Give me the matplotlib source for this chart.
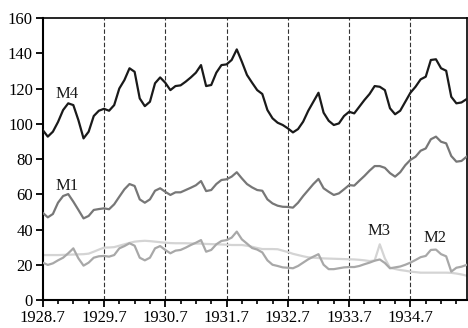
import matplotlib
matplotlib.use("Agg")
import matplotlib.pyplot as plt
import numpy as np
from matplotlib.ticker import MultipleLocator, FixedLocator

plt.rcParams.update({
    "font.family": ["Liberation Serif", "DejaVu Serif"],
    "font.size": 12,
})

# monthly values, July 1928 .. June 1935
m4 = [96.5, 92.7, 95.5, 101, 107.8, 111.6, 110.6, 102, 91.7, 95.5, 104.4, 107.4,
      108.5, 107.4, 110.6, 120, 124.8, 131.5, 129.5, 114.4, 110, 112.5, 123, 126.3,
      123.3, 119.1, 121.4, 121.8, 123.9, 126.3, 129, 133.3, 121.4, 122, 129, 133.3,
      133.7, 136.2, 142.2, 135.2, 127.7, 123.3, 119.1, 116.9, 107.8, 103.1, 100.6, 99.3,
      97.4, 95.1, 97, 101.2, 107.4, 112.5, 117.6, 106.3, 101.7, 99.3, 100.2, 104.4,
      106.8, 105.9, 109.7, 113.5, 116.9, 121.4, 121, 119.1, 108.8, 105.4, 107.4, 112.5,
      117.6, 121, 125.2, 126.7, 136.2, 136.6, 131.5, 130.1, 115.3, 111.6, 112.1, 114]
m1 = [49.5, 46.9, 48.8, 55.2, 59, 60.1, 55.8, 51.1, 46.3, 47.7, 51.1, 51.6,
      52, 51.5, 54.3, 58.6, 62.8, 65.8, 64.7, 57.1, 55.2, 57.1, 62, 63.4,
      61.4, 59.6, 61.1, 61.1, 62.4, 63.7, 65.1, 67.5, 61.8, 62.4, 65.8, 68.1,
      68.5, 70, 72.5, 69, 65.8, 63.9, 62.4, 62, 57.1, 54.8, 53.5, 52.9,
      52.8, 52.4, 55.2, 59, 62.4, 65.8, 68.7, 63.4, 61.4, 59.6, 60.5, 62.8,
      65.2, 64.9, 67.7, 70.4, 73.4, 76, 76, 75, 72, 70, 72.5, 76.5,
      79.5, 81.3, 84.7, 86, 91.2, 92.7, 89.8, 88.9, 81.7, 78.5, 78.9, 81.3]
m2 = [21.2, 19.9, 20.8, 22.5, 24, 26.5, 29.3, 23.6, 19.5, 21.2, 24, 24.8,
      25, 24.6, 25.5, 29.3, 30.6, 32.2, 30.8, 24, 22.5, 24, 29.3, 30.6,
      28.4, 26.5, 28, 28.4, 29.7, 31.2, 32.5, 34, 27.4, 28.4, 31.6, 33.5,
      34, 35.4, 38.8, 34.4, 32, 29.5, 28.6, 27, 22.5, 20, 19.3, 18.5,
      18.3, 18, 19.3, 21.2, 23.1, 24.6, 26, 20, 17.5, 17.5, 18, 18.5,
      18.7, 18.7, 19.3, 20.3, 21.2, 22.3, 23, 21, 18, 18.5, 19, 20,
      21.2, 22.7, 24.3, 25, 28.4, 28.6, 26, 24.8, 16.1, 18.3, 18.9, 19.9]
m3 = [25.5, 25.5, 25.5, 25.5, 25.6, 25.7, 25.8, 25.9, 26, 26.3, 27.4, 28.6,
      29.7, 29.8, 30, 30.8, 31.6, 32.4, 33.1, 33.4, 33.6, 33.4, 33.1, 32.8,
      32.5, 32.3, 32.2, 32.2, 32.2, 32.1, 32, 32, 31.8, 31.7, 31.6, 31.5,
      31.4, 31.2, 31.2, 31.2, 30.8, 30.2, 29.5, 28.9, 28.9, 28.9, 28.8, 28,
      27.2, 26.2, 25.5, 24.8, 24.2, 24, 23.8, 23.6, 23.5, 23.4, 23.3, 23.2,
      23.1, 23, 22.8, 22.5, 22.1, 22.4, 31.6, 23.6, 18.3, 17.6, 17, 16.6,
      16.1, 15.8, 15.5, 15.5, 15.5, 15.5, 15.5, 15.5, 15.4, 15, 14.5, 13.8]
year_labels = ["1928.7", "1929.7", "1930.7", "1931.7", "1932.7", "1933.7", "1934.7"]

months = np.arange(len(m4))

fig = plt.figure(figsize=(4.68, 3.28), dpi=100)
ax = fig.add_axes([0.0912, 0.0854, 0.9058, 0.8596])

# year separators
for k in range(1, len(year_labels)):
    ax.axvline(12 * k, color="#333333", linewidth=0.8, linestyle=(0, (4, 2)), zorder=1)

ax.plot(months, m3, color="#d4d4d4", linewidth=1.6, zorder=2)
ax.plot(months, m2, color="#a8a8a8", linewidth=1.6, zorder=3)
ax.plot(months, m1, color="#777777", linewidth=1.6, zorder=4)
ax.plot(months, m4, color="#1a1a1a", linewidth=1.6, zorder=5)

ax.text(4.75, 117, "M4", ha="center", va="center", color="#1a1a1a")
ax.text(4.8, 64.5, "M1", ha="center", va="center", color="#1a1a1a")
ax.text(65.8, 39.3, "M3", ha="center", va="center", color="#1a1a1a")
ax.text(76.8, 35, "M2", ha="center", va="center", color="#1a1a1a")

ax.set_xlim(0, 83)
ax.set_ylim(0, 160)
ax.xaxis.set_major_locator(FixedLocator(np.arange(0, 84, 12)))
ax.set_xticklabels(year_labels)
ax.xaxis.set_minor_locator(MultipleLocator(3))
ax.yaxis.set_major_locator(MultipleLocator(20))

for side in ["left", "bottom"]:
    ax.spines[side].set_linewidth(1.5)
for side in ["top", "right"]:
    ax.spines[side].set_linewidth(1.2)
ax.tick_params(which="major", direction="out", length=5, width=1.3, pad=2)
ax.tick_params(which="minor", direction="out", length=3, width=1.2)

fig.savefig("out.png", dpi=100)
